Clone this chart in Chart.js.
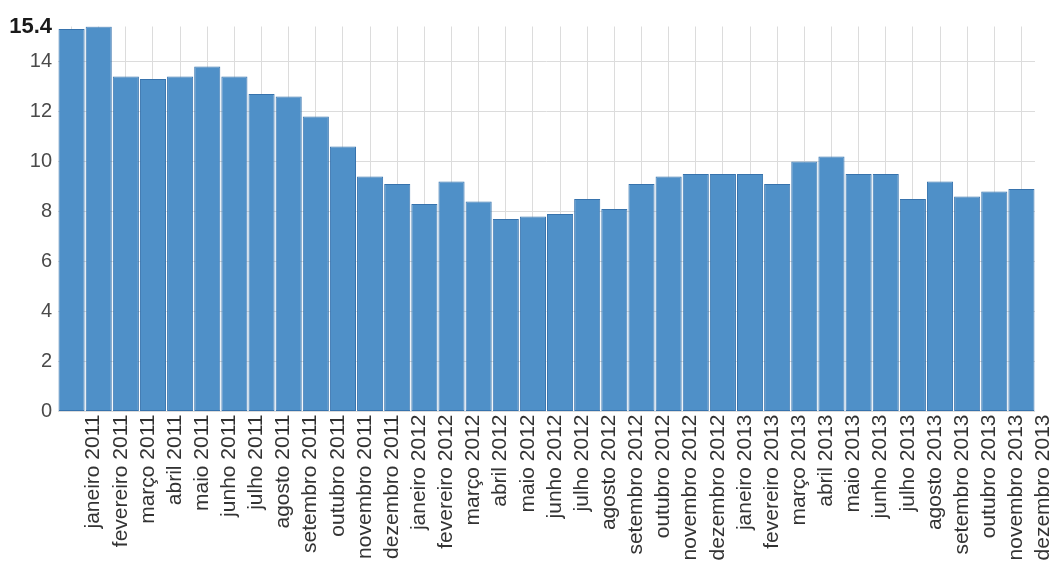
<!DOCTYPE html>
<html>
<head>
<meta charset="utf-8">
<script src="https://cdn.jsdelivr.net/npm/chart.js@4/dist/chart.umd.min.js"></script>
<style>
  html, body { margin: 0; padding: 0; background: #ffffff; }
  #wrap { width: 1055px; height: 571px; }
</style>
</head>
<body>
<div id="wrap"><canvas id="c" width="1055" height="571"></canvas></div>
<script>
// Monthly values, janeiro 2011 – dezembro 2013
const months = [
  'janeiro 2011', 'fevereiro 2011', 'março 2011', 'abril 2011', 'maio 2011', 'junho 2011',
  'julho 2011', 'agosto 2011', 'setembro 2011', 'outubro 2011', 'novembro 2011', 'dezembro 2011',
  'janeiro 2012', 'fevereiro 2012', 'março 2012', 'abril 2012', 'maio 2012', 'junho 2012',
  'julho 2012', 'agosto 2012', 'setembro 2012', 'outubro 2012', 'novembro 2012', 'dezembro 2012',
  'janeiro 2013', 'fevereiro 2013', 'março 2013', 'abril 2013', 'maio 2013', 'junho 2013',
  'julho 2013', 'agosto 2013', 'setembro 2013', 'outubro 2013', 'novembro 2013', 'dezembro 2013'
];
const values = [
  15.3, 15.4, 13.4, 13.3, 13.4, 13.8, 13.4, 12.7, 12.6, 11.8, 10.6, 9.4,
  9.1, 8.3, 9.2, 8.4, 7.7, 7.8, 7.9, 8.5, 8.1, 9.1, 9.4, 9.5,
  9.5, 9.5, 9.1, 10.0, 10.2, 9.5, 9.5, 8.5, 9.2, 8.6, 8.8, 8.9
];
const yTicks = [0, 2, 4, 6, 8, 10, 12, 14, 15.4];
const yMax = 15.4;

const FONT = "'Liberation Sans', Arial, sans-serif";

new Chart(document.getElementById('c'), {
  type: 'bar',
  data: {
    labels: months,
    datasets: [{
      data: values,
      backgroundColor: '#4f90c8',
      borderColor: '#3773ad',
      borderWidth: 1,
      borderSkipped: false,
      categoryPercentage: 1,
      barPercentage: 0.962
    }]
  },
  options: {
    responsive: false,
    animation: false,
    layout: { padding: { top: 26.5, right: 20, left: 0, bottom: 0 } },
    plugins: { legend: { display: false }, tooltip: { enabled: false } },
    scales: {
      x: {
        offset: true,
        grid: { offset: false, color: '#dcdcdc', lineWidth: 1, drawTicks: false },
        border: { display: false },
        ticks: {
          autoSkip: false,
          minRotation: 90,
          maxRotation: 90,
          labelOffset: 22,
          padding: 3,
          color: '#333333',
          font: { family: FONT, size: 21 }
        },
        afterFit: (scale) => { scale.height = 159.5; }
      },
      y: {
        min: 0,
        max: yMax,
        grid: {
          drawTicks: false,
          color: (ctx) => (ctx.tick && ctx.tick.value === yMax) ? 'rgba(0,0,0,0)' : '#dcdcdc'
        },
        border: { display: false },
        afterBuildTicks: (scale) => { scale.ticks = yTicks.map(v => ({ value: v })); },
        ticks: {
          padding: 6,
          color: (ctx) => (ctx.tick && ctx.tick.value === yMax) ? '#1a1a1a' : '#4a4a4a',
          font: (ctx) => (ctx.tick && ctx.tick.value === yMax)
            ? { family: FONT, size: 22, weight: 'bold' }
            : { family: FONT, size: 20 },
          callback: (v) => String(v)
        },
        afterFit: (scale) => { scale.width = 58; }
      }
    }
  }
});
</script>
</body>
</html>
